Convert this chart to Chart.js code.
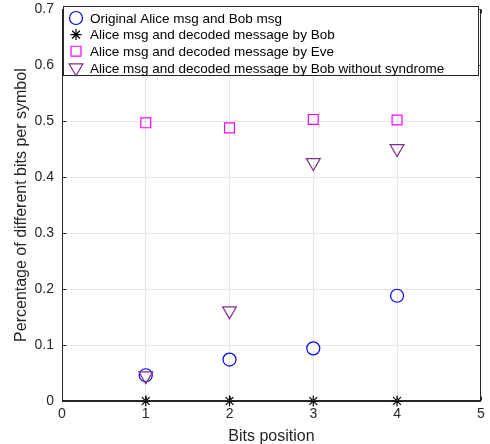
<!DOCTYPE html>
<html>
<head>
<meta charset="utf-8">
<script src="https://cdn.jsdelivr.net/npm/chart.js@4.4.1/dist/chart.umd.min.js"></script>
<style>
    html, body { margin: 0; padding: 0; background: #fff; }
    #wrap { width: 490px; height: 444px; }
</style>
</head>
<body>
<div id="wrap"><canvas id="bitsChart" width="490" height="444"></canvas></div>
<script>
// Data
const bitsPosition = [1, 2, 3, 4];
const originalAliceBob = [0.046, 0.074, 0.094, 0.188];
const decodedByBob = [0, 0, 0, 0];
const decodedByEve = [0.497, 0.488, 0.503, 0.502];
const bobWithoutSyndrome = [0.045, 0.161, 0.426, 0.451];
const seriesLabels = [
    'Original Alice msg and Bob msg',
    'Alice msg and decoded message by Bob',
    'Alice msg and decoded message by Eve',
    'Alice msg and decoded message by Bob without syndrome'
];
const xTicks = [0, 1, 2, 3, 4, 5];
const yTicks = [0, 0.1, 0.2, 0.3, 0.4, 0.5, 0.6, 0.7];

const FONT = '"Liberation Sans", Arial, Helvetica, sans-serif';
const AXIS = '#262626';
const GRID = '#e6e6e6';

const toPoints = ys => bitsPosition.map((x, i) => ({ x: x, y: ys[i] }));

// Axes box with inward ticks, and the legend drawn inside the plot area (MATLAB style)
const insideLegend = {
    id: 'insideLegend',
    afterDraw(chart) {
        const ctx = chart.ctx;
        const a = chart.chartArea;
        const L = Math.round(a.left) + 0.5, T = Math.round(a.top) + 0.5;
        const R = Math.round(a.right) - 0.5, B = Math.round(a.bottom) - 0.5;
        ctx.save();
        ctx.strokeStyle = AXIS;
        ctx.lineWidth = 1;
        ctx.strokeRect(L, T, R - L, B - T);

        // inward tick marks
        const tl = 4;
        ctx.beginPath();
        xTicks.forEach(v => {
            const px = Math.round(chart.scales.x.getPixelForValue(v)) + 0.5;
            ctx.moveTo(px, B); ctx.lineTo(px, B - tl);
            ctx.moveTo(px, T); ctx.lineTo(px, T + tl);
        });
        yTicks.forEach(v => {
            const py = Math.round(chart.scales.y.getPixelForValue(v)) + 0.5;
            ctx.moveTo(L, py); ctx.lineTo(L + tl, py);
            ctx.moveTo(R, py); ctx.lineTo(R - tl, py);
        });
        ctx.stroke();

        const x0 = Math.round(a.left) + 1, y0 = Math.round(a.top) - 3;
        const w = Math.round(a.right - a.left) - 4, h = 69;
        ctx.fillStyle = '#fff';
        ctx.fillRect(x0, y0, w, h);
        ctx.strokeRect(x0 + 0.5, y0 + 0.5, w, h);

        ctx.font = '13.5px ' + FONT;
        ctx.textBaseline = 'middle';
        chart.data.datasets.forEach((ds, i) => {
            const y = y0 + 12 + i * 16.6;
            ctx.strokeStyle = ds.borderColor;
            ctx.fillStyle = 'rgba(0,0,0,0)';
            ctx.lineWidth = ds.borderWidth;
            Chart.helpers.drawPoint(ctx, {
                pointStyle: ds.pointStyle,
                rotation: ds.rotation || 0,
                radius: ds.pointRadius,
                borderWidth: ds.borderWidth
            }, x0 + 13, y);
            ctx.fillStyle = '#000';
            ctx.fillText(ds.label, x0 + 27, y + 1);
        });
        ctx.restore();
    }
};

function makeSet(label, ys, color, style, radius, extra) {
    return Object.assign({
        label: label,
        data: toPoints(ys),
        showLine: false,
        pointStyle: style,
        pointRadius: radius,
        pointHoverRadius: radius,
        borderColor: color,
        backgroundColor: 'rgba(0,0,0,0)',
        borderWidth: 1.2,
        clip: false
    }, extra || {});
}

const ctx = document.getElementById('bitsChart').getContext('2d');
new Chart(ctx, {
    type: 'scatter',
    data: {
        datasets: [
            makeSet(seriesLabels[0], originalAliceBob, '#0000ff', 'circle', 6.5, { order: 4 }),
            makeSet(seriesLabels[1], decodedByBob, '#000000', 'star', 5.5, { order: 3 }),
            makeSet(seriesLabels[2], decodedByEve, '#ff00ff', 'rect', 7, { order: 2 }),
            makeSet(seriesLabels[3], bobWithoutSyndrome, '#7e2f8e', 'triangle', 8, { order: 1, rotation: 180 })
        ]
    },
    options: {
        responsive: false,
        animation: false,
        layout: { padding: { left: 0, right: 9, top: 4, bottom: 0 } },
        plugins: {
            legend: { display: false },
            tooltip: { enabled: false }
        },
        scales: {
            x: {
                type: 'linear',
                min: 0,
                max: 5,
                afterBuildTicks: scale => { scale.ticks = xTicks.map(v => ({ value: v })); },
                afterFit: scale => { scale.height = 43; scale.paddingLeft = 0; scale.paddingRight = 0; },
                grid: { color: GRID, drawTicks: false },
                border: { color: AXIS },
                ticks: { color: AXIS, font: { family: FONT, size: 14 }, padding: 5 },
                title: { display: true, text: 'Bits position', color: AXIS, font: { family: FONT, size: 16 }, padding: { top: 0, bottom: -2 } }
            },
            y: {
                type: 'linear',
                min: 0,
                max: 0.7,
                afterBuildTicks: scale => { scale.ticks = yTicks.map(v => ({ value: v })); },
                afterFit: scale => { scale.width = 62; scale.paddingTop = 0; scale.paddingBottom = 0; },
                grid: { color: GRID, drawTicks: false },
                border: { color: AXIS },
                ticks: { color: AXIS, font: { family: FONT, size: 14 }, padding: 8, callback: v => String(Math.round(v * 10) / 10) },
                title: { display: true, text: 'Percentage of different bits per symbol', color: AXIS, font: { family: FONT, size: 16 }, padding: { top: 12, bottom: 0 } }
            }
        }
    },
    plugins: [insideLegend]
});
</script>
</body>
</html>
